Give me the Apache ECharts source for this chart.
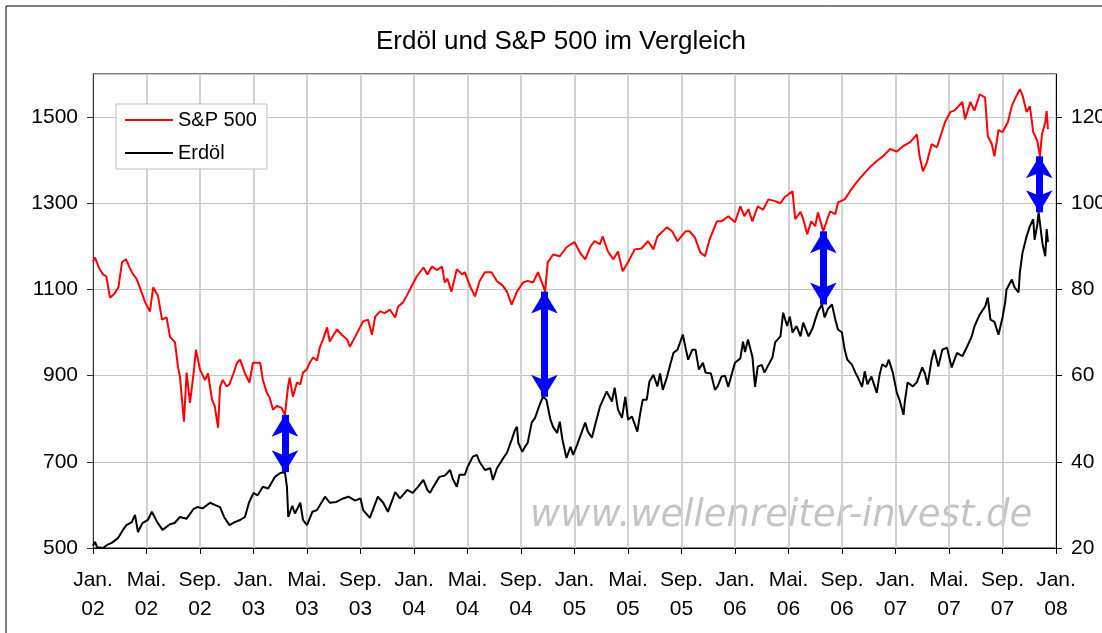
<!DOCTYPE html>
<html lang="de">
<head>
	<meta charset="UTF-8">
	<title>Erdöl und S&amp;P 500</title>
	<script src="https://cdn.jsdelivr.net/npm/echarts@6/dist/echarts.min.js"></script>
</head>
<style>
	html, body { margin: 0; padding: 0; background: #fff; }
	#main { width: 1102px; height: 633px; }
</style>
<body>
	<div id="main"></div>
	<script>
	// x = Monate seit Jan. 2002
	var monthNames = ['Jan.', 'Feb.', 'Mär.', 'Apr.', 'Mai.', 'Jun.', 'Jul.', 'Aug.', 'Sep.', 'Okt.', 'Nov.', 'Dez.'];
	var seriesNames = ['S&P 500', 'Erdöl'];

	var spx = [[0,1165],[0.15,1174],[0.45,1150],[0.75,1135],[1.0,1130],[1.27,1081],[1.6,1090],[1.9,1105],[2.17,1163],[2.47,1170],[2.75,1150],[3.0,1135],[3.25,1125],[3.5,1105],[3.9,1070],[4.26,1049],[4.5,1105],[4.86,1085],[5.16,1030],[5.5,1035],[5.76,990],[6.13,977],[6.35,921],[6.5,898],[6.8,793],[7.0,907],[7.25,837],[7.5,900],[7.7,960],[8.0,914],[8.37,890],[8.6,905],[8.9,844],[9.1,830],[9.35,779],[9.5,874],[9.7,890],[10.0,875],[10.2,880],[10.5,905],[10.77,930],[11.0,937],[11.36,905],[11.7,884],[11.96,930],
		[12.1,930],[12.5,930],[12.7,890],[13.0,860],[13.2,850],[13.46,821],[13.76,830],[14.1,825],[14.35,809],[14.58,874],[14.7,895],[14.95,851],[15.25,884],[15.5,880],[15.7,907],[16.0,915],[16.2,930],[16.45,942],[16.75,935],[16.97,967],[17.2,984],[17.5,1012],[17.7,979],[18.0,995],[18.24,1007],[18.6,995],[19.0,984],[19.2,967],[19.6,990],[19.96,1012],[20.2,1026],[20.56,1030],[20.86,995],[21.1,1037],[21.46,1049],[21.8,1045],[22.2,1053],[22.6,1035],[22.8,1060],[23.18,1070],[23.5,1088],[23.9,1112],
		[24.2,1130],[24.7,1151],[25.0,1135],[25.35,1153],[25.7,1145],[26.1,1153],[26.3,1116],[26.5,1125],[26.8,1095],[27.2,1147],[27.6,1135],[27.8,1140],[28.2,1107],[28.56,1084],[28.9,1119],[29.3,1140],[29.8,1140],[30.2,1119],[30.6,1110],[30.95,1095],[31.3,1065],[31.7,1095],[32.15,1116],[32.5,1120],[32.9,1116],[33.27,1140],[33.57,1116],[33.8,1095],[34.0,1163],[34.4,1181],[34.9,1177],[35.4,1198],
		[36.0,1210],[36.4,1186],[36.8,1170],[37.2,1200],[37.5,1212],[37.9,1205],[38.1,1223],[38.5,1188],[38.9,1170],[39.25,1188],[39.6,1142],[40.0,1163],[40.5,1193],[41.0,1195],[41.5,1212],[41.9,1193],[42.2,1223],[42.9,1244],[43.3,1235],[43.7,1212],[44.3,1235],[44.6,1235],[45.0,1221],[45.4,1186],[45.76,1177],[46.1,1216],[46.65,1258],[47.0,1258],[47.5,1270],
		[48.0,1256],[48.4,1293],[48.7,1270],[49.0,1286],[49.3,1258],[49.7,1293],[50.1,1285],[50.5,1309],[51.0,1305],[51.4,1300],[51.7,1314],[52.3,1328],[52.5,1263],[52.9,1280],[53.1,1263],[53.4,1228],[53.7,1258],[54.0,1247],[54.2,1279],[54.6,1235],[55.1,1281],[55.5,1275],[55.7,1302],[56.2,1309],[56.6,1328],[57.1,1349],[57.6,1367],[58.1,1384],[58.6,1398],[59.1,1410],[59.6,1426],
		[60.1,1420],[60.6,1433],[61.1,1442],[61.6,1460],[61.8,1409],[62.05,1374],[62.35,1395],[62.7,1437],[63.1,1430],[63.3,1449],[63.7,1488],[64.1,1512],[64.4,1515],[65.0,1535],[65.2,1495],[65.6,1535],[65.9,1515],[66.3,1553],[66.7,1545],[66.9,1456],[67.2,1437],[67.4,1409],[67.7,1470],[68.0,1465],[68.4,1488],[68.7,1526],[68.9,1540],[69.3,1565],[69.5,1550],[69.8,1512],[70.05,1525],[70.3,1465],[70.6,1445],[70.8,1409],[70.95,1460],[71.2,1488],[71.3,1514],[71.4,1472]];

	var oil = [[0,20.5],[0.15,21.4],[0.3,20.2],[0.75,20.0],[1.1,20.8],[1.4,21.2],[1.87,22.3],[2.24,24.2],[2.5,25.3],[2.9,26.0],[3.14,27.7],[3.36,23.7],[3.7,25.8],[4.1,26.5],[4.4,28.4],[4.8,26.0],[5.2,24.2],[5.76,25.5],[6.1,25.8],[6.5,27.2],[7.0,26.8],[7.5,29.0],[7.8,29.5],[8.2,29.2],[8.75,30.5],[9.1,30.0],[9.5,29.5],[9.8,27.2],[10.2,25.3],[10.6,26.0],[11.0,26.5],[11.36,27.2],[11.66,30.5],
		[12.0,32.8],[12.3,32.2],[12.7,34.2],[13.1,33.8],[13.6,36.5],[14.0,37.4],[14.35,37.6],[14.5,34.2],[14.6,27.2],[14.9,29.8],[15.1,28.0],[15.5,30.5],[15.7,26.5],[16.0,25.3],[16.4,28.4],[16.75,28.8],[17.35,31.9],[17.7,30.5],[18.2,30.7],[18.7,31.5],[19.1,31.9],[19.6,31.0],[20.0,31.5],[20.2,28.8],[20.7,27.0],[21.0,29.5],[21.3,31.9],[21.7,30.5],[22.05,28.4],[22.6,33.0],[22.95,31.5],[23.5,33.5],[23.9,32.8],
		[24.3,34.2],[24.7,35.8],[25.0,33.5],[25.2,32.8],[25.6,35.0],[25.9,36.5],[26.3,36.8],[26.7,38.1],[26.9,36.0],[27.2,34.2],[27.4,37.0],[27.8,37.0],[28.0,38.8],[28.4,41.2],[28.7,41.6],[28.9,40.0],[29.3,38.1],[29.7,38.5],[29.9,35.8],[30.2,38.5],[30.6,40.5],[30.95,42.1],[31.3,45.1],[31.55,47.4],[31.7,48.1],[31.8,44.4],[32.1,42.3],[32.3,43.5],[32.5,44.4],[32.8,49.1],[33.05,50.2],[33.4,53.3],[33.65,55.1],[33.9,54.4],[34.2,49.8],[34.4,48.1],[34.7,46.7],[34.9,49.3],[35.1,45.1],[35.4,40.9],[35.7,43.5],[35.9,41.6],
		[36.2,44.0],[36.6,47.4],[36.8,49.1],[37.0,47.0],[37.3,45.6],[37.5,48.0],[37.9,52.8],[38.4,56.3],[38.8,54.0],[39.0,57.2],[39.25,52.1],[39.55,50.2],[39.8,55.1],[40.0,49.8],[40.3,50.5],[40.7,47.0],[40.9,51.0],[41.1,54.4],[41.4,54.4],[41.6,58.6],[41.9,60.2],[42.2,57.5],[42.4,60.5],[42.6,56.7],[42.9,59.5],[43.1,61.9],[43.4,65.3],[43.7,66.0],[44.1,69.5],[44.3,66.5],[44.5,63.7],[44.8,66.0],[45.05,66.0],[45.3,61.4],[45.6,63.0],[45.8,60.7],[46.2,60.5],[46.5,56.7],[46.7,57.5],[47.0,59.8],[47.25,60.0],[47.5,57.4],[47.85,61.4],
		[48.0,63.0],[48.4,64.0],[48.6,67.9],[48.75,65.5],[48.97,68.4],[49.3,64.4],[49.5,57.4],[49.7,62.1],[50.0,62.5],[50.2,60.7],[50.5,62.5],[50.8,64.2],[51.0,67.7],[51.4,69.1],[51.6,74.6],[51.9,71.5],[52.1,73.7],[52.3,70.0],[52.6,71.5],[52.9,69.1],[53.1,72.3],[53.5,69.1],[53.8,71.0],[54.0,73.0],[54.2,74.9],[54.5,76.5],[54.7,73.5],[54.95,75.5],[55.25,76.5],[55.5,73.0],[55.7,70.7],[56.0,70.0],[56.2,66.0],[56.4,63.7],[56.75,62.5],[57.0,60.7],[57.2,59.5],[57.5,57.4],[57.7,61.0],[57.9,58.0],[58.2,59.8],[58.6,56.0],[58.8,60.0],[59.0,62.6],[59.3,62.0],[59.5,63.7],[59.8,60.7],
		[60.1,56.0],[60.3,54.4],[60.6,50.9],[60.7,54.0],[60.9,58.4],[61.3,57.5],[61.6,58.5],[62.0,61.9],[62.2,60.5],[62.4,57.9],[62.7,63.7],[62.9,66.0],[63.2,62.1],[63.5,66.0],[63.85,66.5],[64.2,61.9],[64.6,65.3],[65.0,64.5],[65.35,66.7],[65.7,69.1],[65.9,71.4],[66.3,74.2],[66.7,76.0],[66.9,78.1],[67.1,73.0],[67.4,72.5],[67.7,69.5],[68.0,73.5],[68.2,77.0],[68.3,80.0],[68.7,82.3],[68.9,80.5],[69.2,79.3],[69.3,84.0],[69.5,88.6],[69.8,92.3],[70.05,94.7],[70.3,96.3],[70.4,91.5],[70.6,95.0],[70.7,97.9],[70.95,91.6],[71.0,90.5],[71.2,87.7],[71.3,94.0],[71.4,91.0]];

	// Pfeile zwischen den Kurven (Monat)
	var arrowDates = [14.35, 33.75, 54.6, 70.75];

	function nearest(list, m) {
		var best = list[0];
		list.forEach(function (p) {
			if (Math.abs(p[0] - m) < Math.abs(best[0] - m)) best = p;
		});
		return best[1];
	}
	// Erdöl (rechte Achse 20..130) -> linke Achse (500..1600)
	function oilToLeft(v) { return 500 + (v - 20) * 10; }

	var arrowLines = arrowDates.map(function (m) {
		return [{ coord: [m, nearest(spx, m)] }, { coord: [m, oilToLeft(nearest(oil, m))] }];
	});

	var font = 'Liberation Sans, Arial, sans-serif';
	var myChart = echarts.init(document.getElementById('main'));
	var option = {
		animation: false,
		backgroundColor: '#fff',
		title: {
			text: 'Erdöl und S&P 500 im Vergleich',
			left: 371,
			top: 24,
			textStyle: { fontFamily: font, fontSize: 26, fontWeight: 'normal', color: '#000' }
		},
		legend: {
			orient: 'vertical',
			left: 116,
			top: 104,
			padding: [6, 10, 6, 9],
			itemGap: 13,
			itemWidth: 48,
			itemHeight: 2,
			icon: 'rect',
			borderColor: '#c0c0c0',
			borderWidth: 1,
			backgroundColor: '#fff',
			data: seriesNames,
			textStyle: { fontFamily: font, fontSize: 20, color: '#000' }
		},
		grid: {
			left: 93, right: 46, top: 74, bottom: 85,
			outerBoundsMode: 'none',
			show: true, borderColor: '#000', borderWidth: 1
		},
		xAxis: {
			type: 'value',
			min: 0, max: 72, interval: 4,
			axisLine: { lineStyle: { color: '#000' } },
			axisTick: { length: 6, lineStyle: { color: '#000' } },
			splitLine: { lineStyle: { color: '#d2d2d2', width: 2 } },
			axisLabel: {
				margin: 18,
				lineHeight: 29,
				fontFamily: font, fontSize: 21, color: '#000',
				formatter: function (v) {
					var y = 2 + Math.floor(v / 12);
					return monthNames[v % 12] + '\n' + (y < 10 ? '0' + y : y);
				}
			}
		},
		yAxis: [{
			type: 'value',
			min: 500, max: 1600, interval: 200,
			axisLine: { show: true, lineStyle: { color: '#333' } },
			axisTick: { show: true, length: 6, lineStyle: { color: '#333' } },
			splitLine: { lineStyle: { color: '#c4c4c4', width: 1 } },
			axisLabel: {
				showMaxLabel: false, margin: 15, fontFamily: font, fontSize: 21, color: '#000',
				formatter: function (v) { return String(v); }
			}
		}, {
			type: 'value',
			min: 20, max: 130, interval: 20,
			axisLine: { show: true, lineStyle: { color: '#000' } },
			axisTick: { show: true, length: 6, lineStyle: { color: '#000' } },
			splitLine: { show: false },
			axisLabel: {
				showMaxLabel: false, margin: 15, fontFamily: font, fontSize: 21, color: '#000',
				formatter: function (v) { return String(v); }
			}
		}],
		graphic: [{
			type: 'rect',
			shape: { x: 6, y: 6, width: 1200, height: 700 },
			style: { fill: 'none', stroke: '#000', lineWidth: 1 },
			silent: true, z: 100
		}, {
			type: 'text',
			left: 530, top: 498,
			style: {
				text: 'www.wellenreiter-invest.de',
				fontFamily: 'DejaVu Sans, Verdana, sans-serif',
				fontStyle: 'italic',
				fontSize: 37,
				fill: '#c4c4c4'
			},
			silent: true, z: 0
		}],
		series: [{
			name: seriesNames[0],
			type: 'line',
			yAxisIndex: 0,
			symbol: 'none',
			data: spx,
			lineStyle: { color: '#ff0000', width: 2 },
			itemStyle: { color: '#ff0000' },
			z: 3,
			markLine: {
				silent: true,
				symbol: ['arrow', 'arrow'],
				symbolSize: [20, 22],
				label: { show: false },
				lineStyle: { color: '#0000ff', width: 7, type: 'solid' },
				emphasis: { disabled: true },
				data: arrowLines
			}
		}, {
			name: seriesNames[1],
			type: 'line',
			yAxisIndex: 1,
			symbol: 'none',
			data: oil,
			lineStyle: { color: '#000', width: 2 },
			itemStyle: { color: '#000' },
			z: 3
		}]
	};
	myChart.setOption(option);
	</script>
</body>
</html>
